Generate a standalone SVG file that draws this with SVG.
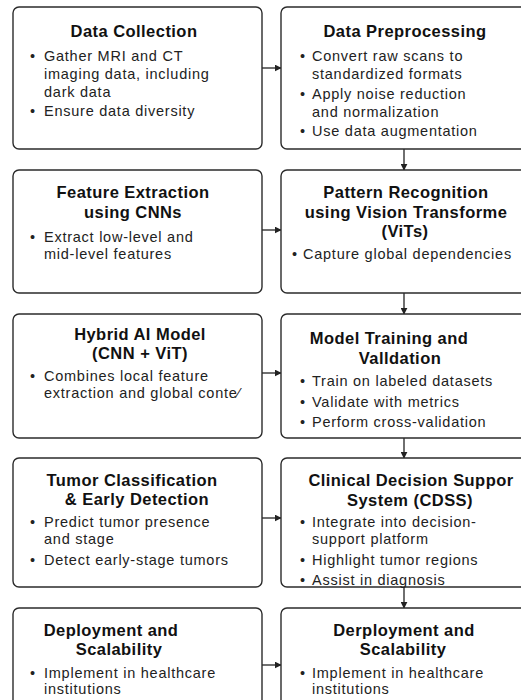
<svg xmlns="http://www.w3.org/2000/svg" width="521" height="700" viewBox="0 0 521 700">
<style>
.box{fill:#fff;stroke:#2b2b2b;stroke-width:1.4}
.t{font-family:"Liberation Sans",Arial,sans-serif;font-weight:bold;font-size:16.5px;letter-spacing:0.45px;fill:#111;text-anchor:middle}
.b{font-family:"Liberation Sans",Arial,sans-serif;font-size:14.5px;letter-spacing:0.75px;fill:#222}
.c{stroke:#222;stroke-width:1.3;fill:none;marker-end:url(#ah)}
</style>
<defs>
<marker id="ah" viewBox="0 0 10 10" refX="9" refY="5" markerWidth="7" markerHeight="7" markerUnits="userSpaceOnUse" orient="auto">
<path d="M0,0 L10,5 L0,10 z" fill="#222"/>
</marker>
</defs>
<rect width="521" height="700" fill="#fff"/>
<g id="connectors">
<line class="c" x1="262" y1="68" x2="281" y2="68"/>
<line class="c" x1="262" y1="230" x2="281" y2="230"/>
<line class="c" x1="262" y1="373" x2="281" y2="373"/>
<line class="c" x1="262" y1="518" x2="281" y2="518"/>
<line class="c" x1="262" y1="665" x2="281" y2="665"/>
<line class="c" x1="404" y1="149" x2="404" y2="170"/>
<line class="c" x1="404" y1="293" x2="404" y2="314"/>
<line class="c" x1="404" y1="438" x2="404" y2="458"/>
<line class="c" x1="404" y1="587" x2="404" y2="608"/>
</g>
<g id="n1">
<rect class="box" x="13" y="7" width="249" height="142" rx="6"/>
<text class="t" x="134" y="37">Data Collection</text>
<text class="b" x="30" y="61">•</text>
<text class="b" x="44" y="61">Gather MRI and CT</text>
<text class="b" x="44" y="79">imaging data, including</text>
<text class="b" x="44" y="97">dark data</text>
<text class="b" x="30" y="116">•</text>
<text class="b" x="44" y="116">Ensure data diversity</text>
</g>
<g id="n2">
<rect class="box" x="281" y="7" width="250" height="142" rx="6"/>
<text class="t" x="405" y="37">Data Preprocessing</text>
<text class="b" x="300" y="61">•</text>
<text class="b" x="312" y="61">Convert raw scans to</text>
<text class="b" x="312" y="79">standardized formats</text>
<text class="b" x="300" y="99">•</text>
<text class="b" x="312" y="99">Apply noise reduction</text>
<text class="b" x="312" y="117">and normalization</text>
<text class="b" x="300" y="136">•</text>
<text class="b" x="312" y="136">Use data augmentation</text>
</g>
<g id="n3">
<rect class="box" x="13" y="170" width="249" height="123" rx="6"/>
<text class="t" x="133" y="198">Feature Extraction</text>
<text class="t" x="133" y="218">using CNNs</text>
<text class="b" x="30" y="242">•</text>
<text class="b" x="44" y="242">Extract low-level and</text>
<text class="b" x="44" y="259">mid-level features</text>
</g>
<g id="n4">
<rect class="box" x="281" y="170" width="250" height="123" rx="6"/>
<text class="t" x="406" y="198">Pattern Recognition</text>
<text class="t" x="406" y="218">using Vision Transforme</text>
<text class="t" x="405" y="237">(ViTs)</text>
<text class="b" x="292" y="259">•</text>
<text class="b" x="303" y="259">Capture global dependencies</text>
</g>
<g id="n5">
<rect class="box" x="13" y="314" width="249" height="124" rx="6"/>
<text class="t" x="140" y="340">Hybrid AI Model</text>
<text class="t" x="140" y="359">(CNN + ViT)</text>
<text class="b" x="30" y="381">•</text>
<text class="b" x="44" y="381">Combines local feature</text>
<text class="b" x="44" y="398">extraction and global conte⁄</text>
</g>
<g id="n6">
<rect class="box" x="281" y="314" width="250" height="124" rx="6"/>
<text class="t" x="389" y="344">Model Training and</text>
<text class="t" x="400" y="364">Valldation</text>
<text class="b" x="300" y="386">•</text>
<text class="b" x="312" y="386">Train on labeled datasets</text>
<text class="b" x="300" y="407">•</text>
<text class="b" x="312" y="407">Validate with metrics</text>
<text class="b" x="300" y="427">•</text>
<text class="b" x="312" y="427">Perform cross-validation</text>
</g>
<g id="n7">
<rect class="box" x="13" y="458" width="249" height="129" rx="6"/>
<text class="t" x="132" y="486">Tumor Classification</text>
<text class="t" x="137" y="505">&amp; Early Detection</text>
<text class="b" x="30" y="527">•</text>
<text class="b" x="44" y="527">Predict tumor presence</text>
<text class="b" x="44" y="544">and stage</text>
<text class="b" x="30" y="565">•</text>
<text class="b" x="44" y="565">Detect early-stage tumors</text>
</g>
<g id="n8">
<rect class="box" x="281" y="458" width="250" height="129" rx="6"/>
<text class="t" x="411" y="486">Clinical Decision Suppor</text>
<text class="t" x="410" y="506">System (CDSS)</text>
<text class="b" x="300" y="527">•</text>
<text class="b" x="312" y="527">Integrate into decision-</text>
<text class="b" x="312" y="544">support platform</text>
<text class="b" x="300" y="565">•</text>
<text class="b" x="312" y="565">Highlight tumor regions</text>
<text class="b" x="300" y="585">•</text>
<text class="b" x="312" y="585">Assist in diagnosis</text>
</g>
<g id="n9">
<rect class="box" x="13" y="608" width="249" height="110" rx="6"/>
<text class="t" x="111" y="636">Deployment and</text>
<text class="t" x="119" y="655">Scalability</text>
<text class="b" x="30" y="678">•</text>
<text class="b" x="44" y="678">Implement in healthcare</text>
<text class="b" x="44" y="694">institutions</text>
</g>
<g id="n10">
<rect class="box" x="281" y="608" width="250" height="110" rx="6"/>
<text class="t" x="404" y="636">Derployment and</text>
<text class="t" x="403" y="655">Scalability</text>
<text class="b" x="300" y="678">•</text>
<text class="b" x="312" y="678">Implement in healthcare</text>
<text class="b" x="312" y="694">institutions</text>
</g>
</svg>
